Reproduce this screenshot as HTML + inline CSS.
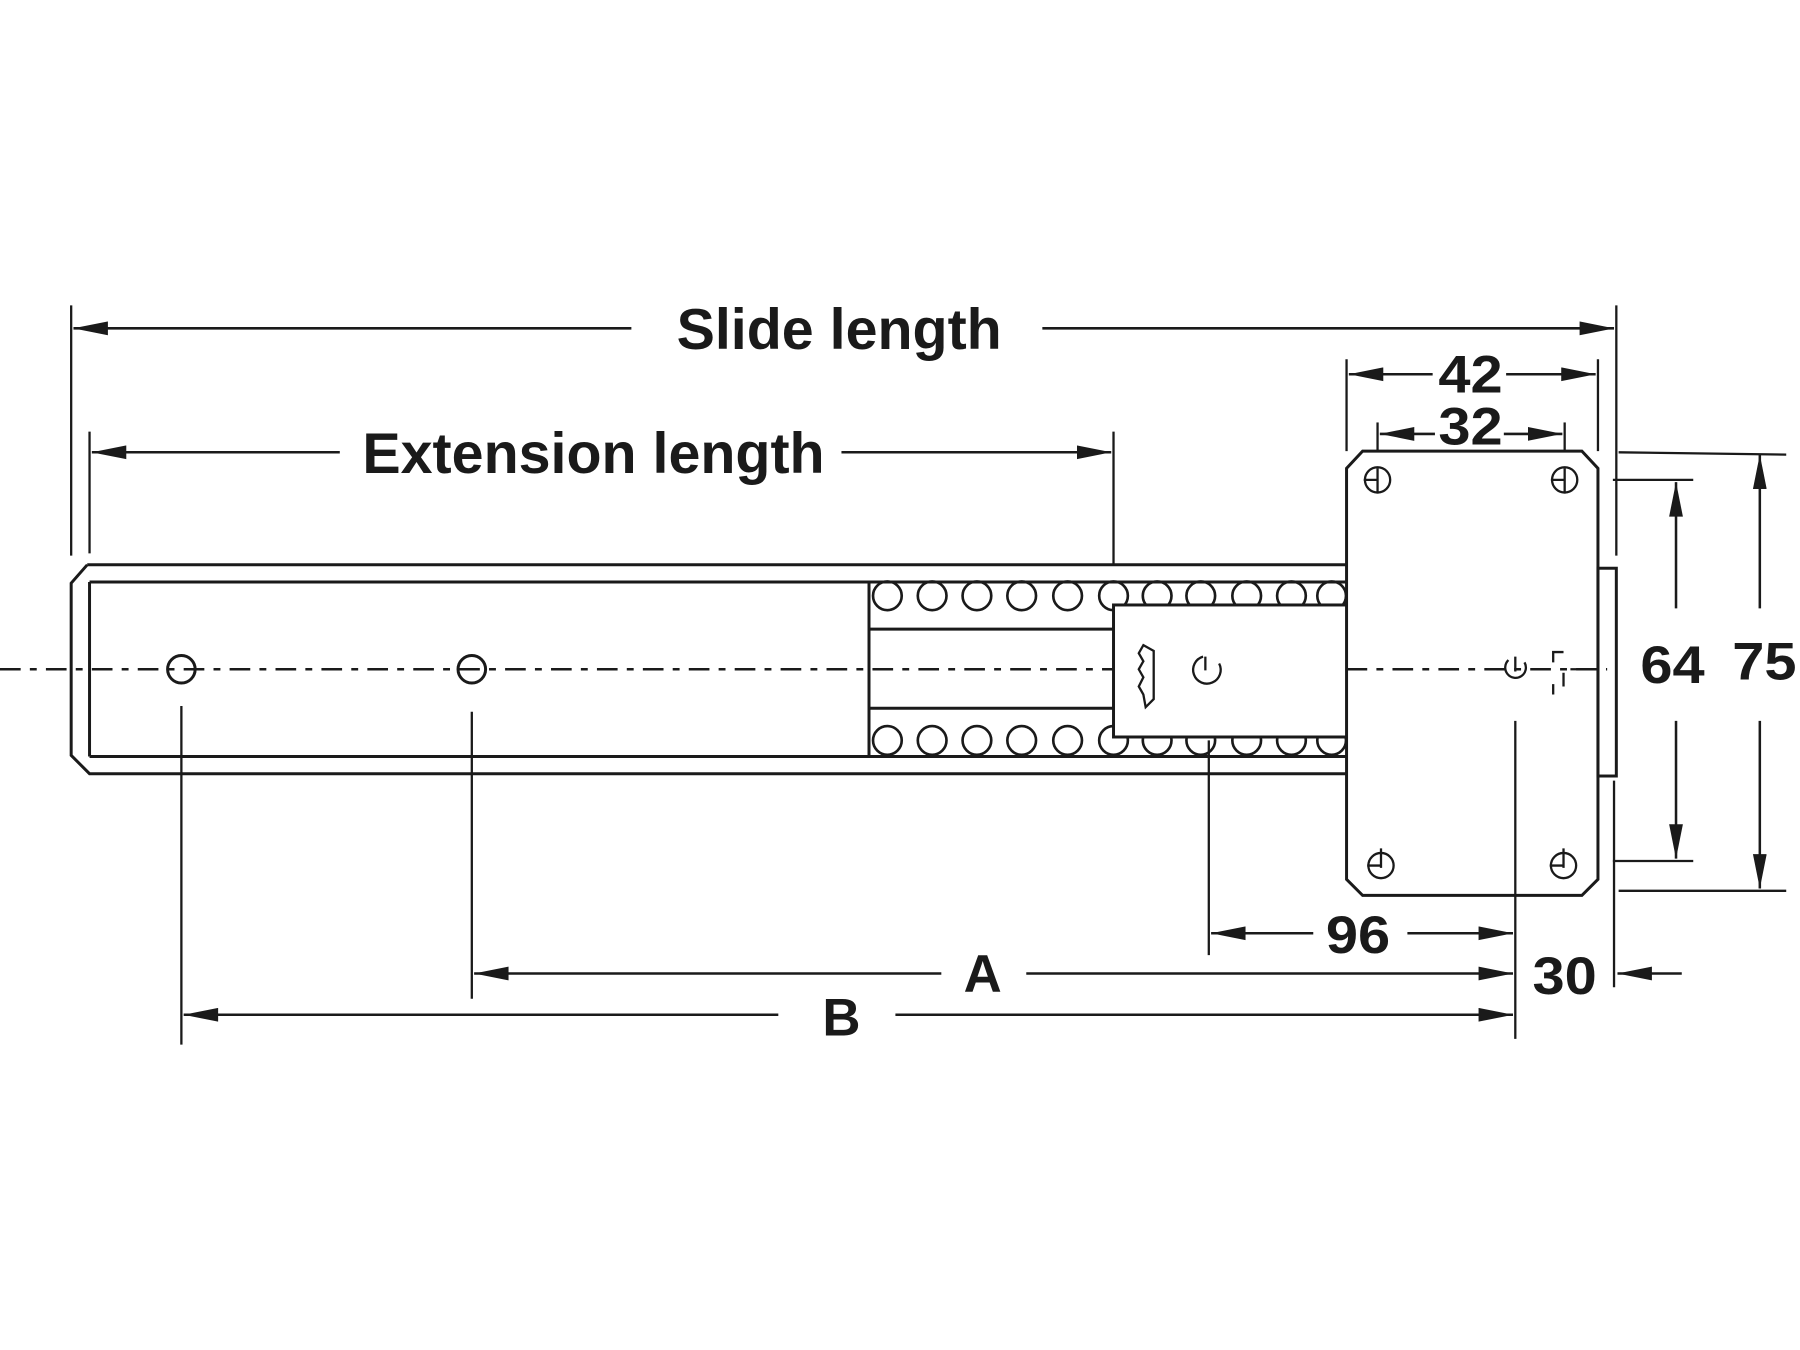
<!DOCTYPE html>
<html><head><meta charset="utf-8"><style>
html,body{margin:0;padding:0;background:#fff;}
svg{display:block;}
text{font-family:"Liberation Sans",sans-serif;font-weight:bold;fill:#1a1a1a;}
</style></head><body>
<svg width="1800" height="1350" viewBox="0 0 1568 1176" xmlns="http://www.w3.org/2000/svg">
<defs>
<marker id="ae" markerUnits="userSpaceOnUse" markerWidth="32" markerHeight="14" refX="30" refY="6" orient="auto">
<path d="M0,0 L30,6 L0,12 Z" fill="#1a1a1a"/></marker>
<marker id="as" markerUnits="userSpaceOnUse" markerWidth="32" markerHeight="14" refX="0" refY="6" orient="auto">
<path d="M30,0 L0,6 L30,12 Z" fill="#1a1a1a"/></marker>
</defs>
<g stroke="#1a1a1a" stroke-width="2.6" fill="none">
<line x1="0" y1="583" x2="1400" y2="583" stroke-dasharray="18,8,6,8" stroke-width="2.2"/>
<path d="M76,492 L1175,492 M1175,674 L78,674 L62,658 L62,508 L76,492"/>
<path d="M78,507 L1175,507 M78,659 L1175,659 M78,507 L78,659 M757,507 L757,659"/>
<path d="M757,548 L970,548 M757,617 L970,617"/>
<circle cx="158" cy="583" r="12"/><circle cx="411" cy="583" r="12"/>
<g stroke-width="2.3">
<circle cx="773" cy="519" r="12.5"/><circle cx="812" cy="519" r="12.5"/><circle cx="851" cy="519" r="12.5"/><circle cx="890" cy="519" r="12.5"/><circle cx="930" cy="519" r="12.5"/><circle cx="970" cy="519" r="12.5"/><circle cx="1008" cy="519" r="12.5"/><circle cx="1046" cy="519" r="12.5"/><circle cx="1086" cy="519" r="12.5"/><circle cx="1125" cy="519" r="12.5"/><circle cx="1160" cy="519" r="12.5"/>
<circle cx="773" cy="645" r="12.5"/><circle cx="812" cy="645" r="12.5"/><circle cx="851" cy="645" r="12.5"/><circle cx="890" cy="645" r="12.5"/><circle cx="930" cy="645" r="12.5"/><circle cx="970" cy="645" r="12.5"/><circle cx="1008" cy="645" r="12.5"/><circle cx="1046" cy="645" r="12.5"/><circle cx="1086" cy="645" r="12.5"/><circle cx="1125" cy="645" r="12.5"/><circle cx="1160" cy="645" r="12.5"/>
</g>
<rect x="970" y="527" width="205" height="115" fill="#fff"/>
<path d="M996,562 L1005,567 L1005,609 L998,616 L996,605 L992,598 L996,590 L992,583 L996,576 L992,569 Z" stroke-width="2"/>
<path d="M1050,572 L1050,584 M1062,578 A12,12 0 1 1 1048,572" stroke-width="2"/>
<path d="M1187,393 L1378,393 L1392,408 L1392,766 L1378,780 L1187,780 L1173,766 L1173,408 Z" fill="#fff"/>
<line x1="1173" y1="583" x2="1400" y2="583" stroke-dasharray="18,8,6,8" stroke-width="2.2"/>
<rect x="1392" y="495" width="16" height="181"/>
<circle cx="1200" cy="418" r="11" stroke-width="2"/><path d="M1188,418 L1200,418 M1200,408 L1200,430" stroke-width="2"/>
<circle cx="1363" cy="418" r="11" stroke-width="2"/><path d="M1351,418 L1363,418 M1363,408 L1363,430" stroke-width="2"/>
<circle cx="1203" cy="754" r="11" stroke-width="2"/><path d="M1191,754 L1203,754 M1203,739 L1203,756" stroke-width="2"/>
<circle cx="1362" cy="754" r="11" stroke-width="2"/><path d="M1350,754 L1362,754 M1362,739 L1362,756" stroke-width="2"/>
<path d="M1320,572 L1320,585 M1314,575 A9,9 0 1 0 1328,577" stroke-width="2"/>
<path d="M1353,577 L1353,568 L1362,568 M1362,586 L1362,598 M1353,596 L1353,605 M1368,583 L1376,583" stroke-width="2"/>
<g stroke-width="2">
<line x1="62" y1="266" x2="62" y2="484"/>
<line x1="1408" y1="266" x2="1408" y2="484"/>
<line x1="78" y1="376" x2="78" y2="482"/>
<line x1="970" y1="376" x2="970" y2="492"/>
<line x1="1173" y1="313" x2="1173" y2="393"/>
<line x1="1392" y1="313" x2="1392" y2="393"/>
<line x1="1200" y1="368" x2="1200" y2="393"/>
<line x1="1363" y1="368" x2="1363" y2="393"/>
<line x1="1405" y1="418" x2="1475" y2="418"/>
<line x1="1405" y1="750" x2="1475" y2="750"/>
<line x1="1410" y1="394" x2="1556" y2="396"/>
<line x1="1410" y1="776" x2="1556" y2="776"/>
<line x1="1406" y1="680" x2="1406" y2="860"/>
<line x1="1053" y1="645" x2="1053" y2="832"/>
<line x1="1320" y1="628" x2="1320" y2="905"/>
<line x1="411" y1="620" x2="411" y2="870"/>
<line x1="158" y1="615" x2="158" y2="910"/>
</g>
<g stroke-width="2.2">
<line x1="64" y1="286" x2="550" y2="286" marker-start="url(#as)"/>
<line x1="908" y1="286" x2="1406" y2="286" marker-end="url(#ae)"/>
<line x1="80" y1="394" x2="296" y2="394" marker-start="url(#as)"/>
<line x1="733" y1="394" x2="968" y2="394" marker-end="url(#ae)"/>
<line x1="1175" y1="326" x2="1248" y2="326" marker-start="url(#as)"/>
<line x1="1312" y1="326" x2="1390" y2="326" marker-end="url(#ae)"/>
<line x1="1202" y1="378" x2="1250" y2="378" marker-start="url(#as)"/>
<line x1="1310" y1="378" x2="1361" y2="378" marker-end="url(#ae)"/>
<line x1="1460" y1="420" x2="1460" y2="530" marker-start="url(#as)"/>
<line x1="1460" y1="628" x2="1460" y2="748" marker-end="url(#ae)"/>
<line x1="1533" y1="396" x2="1533" y2="530" marker-start="url(#as)"/>
<line x1="1533" y1="628" x2="1533" y2="774" marker-end="url(#ae)"/>
<line x1="1055" y1="813" x2="1144" y2="813" marker-start="url(#as)"/>
<line x1="1226" y1="813" x2="1318" y2="813" marker-end="url(#ae)"/>
<line x1="413" y1="848" x2="820" y2="848" marker-start="url(#as)"/>
<line x1="894" y1="848" x2="1318" y2="848" marker-end="url(#ae)"/>
<line x1="160" y1="884" x2="678" y2="884" marker-start="url(#as)"/>
<line x1="780" y1="884" x2="1318" y2="884" marker-end="url(#ae)"/>
<line x1="1409" y1="848" x2="1465" y2="848" marker-start="url(#as)"/>
</g>
</g>
<text x="731" y="304" font-size="50" text-anchor="middle">Slide length</text>
<text x="517" y="412" font-size="50" text-anchor="middle">Extension length</text>
<text x="1281" y="342" font-size="46" text-anchor="middle" textLength="56" lengthAdjust="spacingAndGlyphs">42</text>
<text x="1281" y="387" font-size="46" text-anchor="middle" textLength="56" lengthAdjust="spacingAndGlyphs">32</text>
<text x="1457" y="595" font-size="46" text-anchor="middle" textLength="56" lengthAdjust="spacingAndGlyphs">64</text>
<text x="1537" y="592" font-size="46" text-anchor="middle" textLength="56" lengthAdjust="spacingAndGlyphs">75</text>
<text x="1183" y="830" font-size="46" text-anchor="middle" textLength="56" lengthAdjust="spacingAndGlyphs">96</text>
<text x="856" y="864" font-size="46" text-anchor="middle">A</text>
<text x="733" y="902" font-size="46" text-anchor="middle">B</text>
<text x="1363" y="866" font-size="46" text-anchor="middle" textLength="56" lengthAdjust="spacingAndGlyphs">30</text>
</svg>
</body></html>
